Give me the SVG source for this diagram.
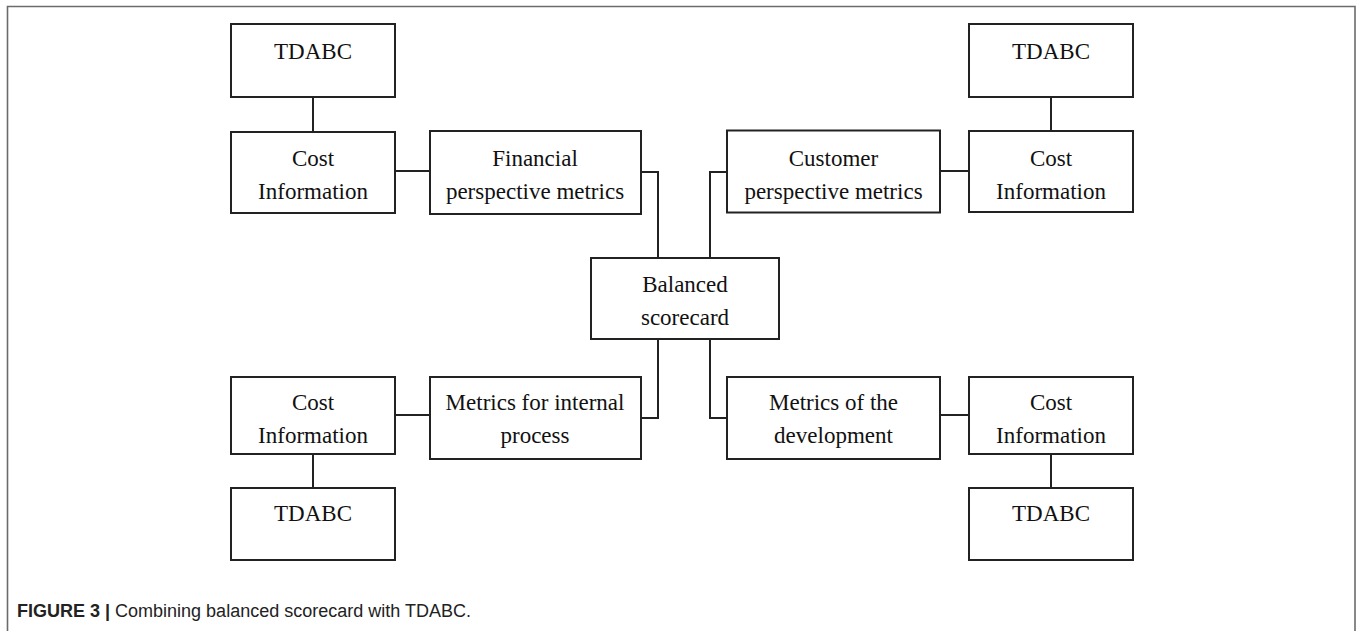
<svg xmlns="http://www.w3.org/2000/svg" width="1357" height="631" viewBox="0 0 1357 631">
<style>
.box{fill:#fff;stroke:#222;stroke-width:2}
.lbl{font-family:"Liberation Serif","Times New Roman",serif;font-size:23px;fill:#111;text-anchor:middle}
.con{fill:none;stroke:#222;stroke-width:2}
.frame{fill:none;stroke:#6b6b6b;stroke-width:1.6}
.cap{font-family:"Liberation Sans",Arial,sans-serif;font-size:18px;fill:#222}
</style>
<rect width="1357" height="631" fill="#fff"/>
<path class="frame" d="M7.5,631 V6.5 H1355 V631"/>
<g id="connectors">
<path class="con" d="M313,97 V132"/>
<path class="con" d="M395,171 H430"/>
<path class="con" d="M641,172 H658 V258"/>
<path class="con" d="M727,172 H710 V258"/>
<path class="con" d="M940,171 H969"/>
<path class="con" d="M1051,97 V131"/>
<path class="con" d="M658,339 V418 H641"/>
<path class="con" d="M710,339 V418 H727"/>
<path class="con" d="M395,415 H430"/>
<path class="con" d="M940,415 H969"/>
<path class="con" d="M313,454 V488"/>
<path class="con" d="M1051,454 V488"/>
</g>
<g id="tdabc-tl"><rect class="box" x="231" y="24" width="164" height="73"/><text class="lbl" x="313" y="58.5">TDABC</text></g>
<g id="cost-tl"><rect class="box" x="231" y="132" width="164" height="81"/><text class="lbl" x="313" y="165.5">Cost</text><text class="lbl" x="313" y="199.3">Information</text></g>
<g id="financial"><rect class="box" x="430" y="131" width="211" height="83"/><text class="lbl" x="535" y="165.5">Financial</text><text class="lbl" x="535" y="199.3">perspective metrics</text></g>
<g id="customer"><rect class="box" x="727" y="130.5" width="213" height="82"/><text class="lbl" x="833.5" y="165.5">Customer</text><text class="lbl" x="833.5" y="199.3">perspective metrics</text></g>
<g id="cost-tr"><rect class="box" x="969" y="131" width="164" height="81"/><text class="lbl" x="1051" y="165.5">Cost</text><text class="lbl" x="1051" y="199.3">Information</text></g>
<g id="tdabc-tr"><rect class="box" x="969" y="24" width="164" height="73"/><text class="lbl" x="1051" y="58.5">TDABC</text></g>
<g id="balanced"><rect class="box" x="591" y="258" width="188" height="81"/><text class="lbl" x="685" y="292">Balanced</text><text class="lbl" x="685" y="325">scorecard</text></g>
<g id="cost-bl"><rect class="box" x="231" y="377" width="164" height="77"/><text class="lbl" x="313" y="410">Cost</text><text class="lbl" x="313" y="443.3">Information</text></g>
<g id="internal"><rect class="box" x="430" y="377" width="211" height="82"/><text class="lbl" x="535" y="410">Metrics for internal</text><text class="lbl" x="535" y="443.3">process</text></g>
<g id="development"><rect class="box" x="727" y="377" width="213" height="82"/><text class="lbl" x="833.5" y="410">Metrics of the</text><text class="lbl" x="833.5" y="443.3">development</text></g>
<g id="cost-br"><rect class="box" x="969" y="377" width="164" height="77"/><text class="lbl" x="1051" y="410">Cost</text><text class="lbl" x="1051" y="443.3">Information</text></g>
<g id="tdabc-bl"><rect class="box" x="231" y="488" width="164" height="72"/><text class="lbl" x="313" y="521">TDABC</text></g>
<g id="tdabc-br"><rect class="box" x="969" y="488" width="164" height="72"/><text class="lbl" x="1051" y="521">TDABC</text></g>
<text class="cap" x="17" y="617"><tspan font-weight="bold">FIGURE 3 |</tspan> Combining balanced scorecard with TDABC.</text>
</svg>
